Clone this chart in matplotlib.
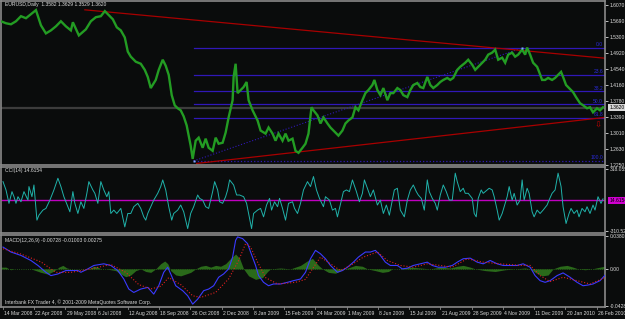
import numpy as np
import matplotlib
matplotlib.use('Agg')
import matplotlib.pyplot as plt

# ---- price (daily close) ----
price_bar = [0, 5, 10, 15, 20, 25, 30, 35, 40, 45, 50, 55, 60, 65, 70, 72, 78, 85, 90, 95,
             100, 104, 108, 112, 116, 120, 124, 127, 130, 135, 140, 144, 147, 150, 155, 158,
             162, 165, 168, 171, 174, 177, 180, 183, 186, 188, 190, 192, 195, 198, 202, 205,
             208, 212, 215, 218, 222, 225, 228, 232, 233, 235, 237, 240, 243, 246, 248, 252,
             257, 260, 265, 268, 272, 275, 278, 282, 285, 288, 292, 295, 298, 302, 305, 308,
             311, 313, 317, 320, 323, 327, 330, 333, 338, 342, 345, 348, 352, 355, 358, 362,
             365, 368, 372, 374, 377, 380, 383, 387, 390, 393, 397, 400, 403, 407, 410, 413,
             417, 420, 423, 427, 430, 433, 437, 440, 443, 447, 450, 453, 457, 460, 465, 468,
             472, 475, 478, 482, 485, 488, 492, 495, 498, 502, 505, 508, 512, 515, 518, 522,
             525, 527, 530, 533, 537, 539, 542, 545, 548, 552, 555, 558, 561, 563, 566, 569,
             573, 576, 580, 583, 587, 590, 593, 597, 600, 603]
price_close = [1.5683, 1.5635, 1.5611, 1.5683, 1.5804, 1.5756, 1.5852, 1.5949, 1.5586, 1.5393,
               1.5465, 1.5562, 1.5683, 1.5562, 1.5465, 1.5659, 1.5345, 1.5490, 1.5683, 1.5780,
               1.5804, 1.5925, 1.5828, 1.5731, 1.5538, 1.5465, 1.5296, 1.4958, 1.4837, 1.4716,
               1.4668, 1.4522, 1.4353, 1.4087, 1.4281, 1.4522, 1.4764, 1.4619, 1.4402, 1.3918,
               1.3676, 1.3604, 1.3555, 1.3410, 1.3193, 1.2951, 1.2709, 1.2395, 1.2830, 1.2902,
               1.2661, 1.2878, 1.2661, 1.2588, 1.2902, 1.2757, 1.2781, 1.3023, 1.3386, 1.3797,
               1.4353, 1.4668, 1.3966, 1.4039, 1.4111, 1.4232, 1.3797, 1.3555, 1.3313, 1.3072,
               1.2999, 1.3144, 1.2999, 1.2830, 1.2999, 1.2830, 1.2999, 1.2830, 1.2878, 1.2588,
               1.2540, 1.2661, 1.2757, 1.2999, 1.3628, 1.3555, 1.3434, 1.3241, 1.3386, 1.3241,
               1.3144, 1.3072, 1.2951, 1.3072, 1.3241, 1.3313, 1.3386, 1.3628, 1.3555, 1.3797,
               1.3966, 1.4039, 1.4160, 1.4281, 1.4039, 1.3918, 1.4087, 1.3797, 1.3966, 1.3966,
               1.4087, 1.4039, 1.3918, 1.3870, 1.4039, 1.4160, 1.4208, 1.4111, 1.4087, 1.4353,
               1.4160, 1.4087, 1.4160, 1.4232, 1.4281, 1.4329, 1.4281, 1.4329, 1.4522, 1.4595,
               1.4692, 1.4764, 1.4643, 1.4522, 1.4595, 1.4692, 1.4764, 1.4885, 1.4934, 1.5006,
               1.4764, 1.4813, 1.4692, 1.4885, 1.4934, 1.4837, 1.4885, 1.5006, 1.4885, 1.5054,
               1.4885, 1.4692, 1.4595, 1.4474, 1.4281, 1.4281, 1.4329, 1.4281, 1.4329, 1.4402,
               1.4474, 1.4353, 1.4160, 1.4087, 1.3990, 1.3870, 1.3725, 1.3676, 1.3604, 1.3628,
               1.3507, 1.3604, 1.3555, 1.3628]

price_ticks = [1.6070, 1.5690, 1.5300, 1.4920, 1.4540, 1.4160, 1.3780, 1.3390, 1.3010, 1.2630, 1.2250]
last_price = 1.3620

# fibonacci + trend lines (anchor points)
fib_low, fib_high = 1.2346, 1.5047
fib_pct = [0.0, 23.6, 38.2, 50.0, 61.8, 100.0]
fib_start = 193
fib_high_bar = 522
upper_trend = ([84, 605], [1.5956, 1.4800])
lower_trend = ([196, 605], [1.2286, 1.3386])

# ---- CCI(14) ----
cci_bar = [2, 5, 8, 11, 13, 15, 17, 20, 23, 27, 28, 31, 33, 36, 38, 42, 45, 49, 53, 57, 60, 63,
           67, 69, 72, 74, 77, 80, 83, 86, 88, 92, 94, 97, 100, 103, 106, 108, 110, 113, 116,
           120, 124, 127, 130, 133, 137, 140, 143, 145, 147, 150, 153, 157, 160, 162, 165, 168,
           171, 173, 177, 180, 183, 187, 190, 193, 197, 199, 202, 205, 208, 212, 214, 217, 219,
           222, 225, 227, 229, 233, 236, 239, 243, 246, 248, 251, 253, 257, 260, 263, 266, 269,
           271, 274, 277, 279, 282, 285, 288, 292, 294, 297, 300, 303, 307, 310, 313, 316, 319,
           323, 325, 329, 332, 335, 337, 341, 343, 346, 349, 352, 356, 359, 362, 364, 367, 370,
           373, 377, 380, 383, 386, 389, 392, 394, 397, 400, 404, 407, 410, 413, 416, 418, 421,
           424, 427, 429, 432, 435, 437, 440, 443, 446, 449, 452, 455, 457, 460, 463, 465, 468,
           472, 474, 476, 478, 481, 483, 487, 489, 492, 494, 497, 499, 502, 504, 507, 509, 512,
           514, 517, 520, 522, 524, 527, 529, 532, 534, 537, 540, 543, 547, 549, 552, 555, 558,
           561, 563, 566, 569, 571, 574, 577, 579, 582, 585, 587, 590, 593, 595, 598, 601, 603]
cci_val = [189, 105, -30, 88, 37, -30, 37, -14, 88, 3, 139, 37, 155, -199, -149, -98, -81, 3,
           105, 223, 139, 37, -64, -115, 88, -30, -132, -14, -81, 71, 189, 105, 71, -30, 189,
           105, 37, 88, -132, -98, -132, -81, -267, -132, -132, -64, -30, -81, -166, -199, -132,
           -64, 3, 71, 139, 206, 105, -64, -199, -132, -98, -47, -115, -284, -132, -64, 54, 20,
           3, -64, -81, 88, 189, 105, -14, -30, 37, 105, 206, 155, 54, 54, 37, -30, -132, -284,
           -132, -98, -81, -166, -47, 20, -98, -14, -64, 20, -81, -199, -30, -14, -81, -132,
           -30, 105, 189, 139, 240, 105, 20, -64, 37, 3, -98, -81, -166, 3, 88, 105, 88, 206,
           88, -14, 71, 206, 122, 37, 105, -47, 3, -132, -47, -149, 3, 105, 122, -98, -166, 3,
           105, 155, 88, 54, 20, -98, 206, 88, 20, -30, -98, 54, 155, 88, 3, 3, 274, 189, 88,
           122, 71, 71, 20, -132, -166, 20, 105, 71, 105, 122, 105, 37, -98, -199, -132, -64,
           37, 139, 3, 71, -47, 3, 206, 3, 122, 71, -115, -166, -98, -132, -98, -47, 3, 71,
           105, 274, 139, -64, -233, -132, -81, -132, -98, -166, -81, -115, -64, -132, -47, -98,
           37, -30, 15]
cci_top, cci_bottom = 318.055, -310.524
cci_last = 14.6154

# ---- MACD(12,26,9) ----
macd_bar = [2, 10, 20, 30, 37, 45, 50, 57, 65, 77, 80, 87, 93, 103, 110, 117, 123, 128, 133,
            140, 147, 153, 158, 163, 167, 170, 175, 182, 187, 192, 197, 203, 208, 213, 218, 223,
            228, 232, 235, 237, 242, 247, 250, 255, 258, 263, 268, 273, 280, 287, 293, 300, 305,
            310, 315, 320, 325, 330, 337, 342, 347, 353, 358, 365, 370, 375, 380, 385, 390, 397,
            402, 407, 413, 420, 427, 432, 438, 445, 452, 457, 463, 470, 477, 483, 490, 497, 503,
            510, 517, 523, 530, 535, 540, 545, 550, 557, 563, 570, 577, 583, 588, 593, 600, 605]
macd_main = [0.0250, 0.0193, 0.0154, 0.0096, 0.0039, -0.0039, -0.0077, -0.0058, -0.0019, -0.0019,
             -0.0039, 0.0, 0.0039, 0.0058, 0.0039, -0.0019, -0.0116, -0.0231, -0.0270, -0.0231,
             -0.0212, -0.0289, -0.0193, -0.0039, 0.0019, -0.0058, -0.0193, -0.0250, -0.0308,
             -0.0404, -0.0347, -0.0250, -0.0231, -0.0193, -0.0096, -0.0058, 0.0, 0.0135, 0.0327,
             0.0366, 0.0347, 0.0289, 0.0193, 0.0039, -0.0077, -0.0154, -0.0193, -0.0173, -0.0173,
             -0.0154, -0.0135, -0.0116, -0.0039, 0.0116, 0.0212, 0.0173, 0.0116, 0.0039, -0.0039,
             -0.0019, 0.0019, 0.0077, 0.0135, 0.0193, 0.0193, 0.0212, 0.0154, 0.0077, 0.0039,
             0.0039, 0.0, 0.0008, 0.0039, 0.0058, 0.0077, 0.0039, 0.0019, 0.0019, 0.0039, 0.0077,
             0.0116, 0.0123, 0.0077, 0.0058, 0.0096, 0.0058, 0.0039, 0.0039, 0.0039, 0.0058,
             0.0019, -0.0077, -0.0135, -0.0154, -0.0135, -0.0077, -0.0046, -0.0096, -0.0154,
             -0.0193, -0.0185, -0.0173, -0.0135, -0.0073]
sig_bar = [2, 20, 40, 55, 70, 90, 110, 125, 138, 150, 160, 168, 180, 192, 200, 215, 228, 238,
           245, 250, 257, 265, 277, 295, 305, 312, 320, 330, 340, 350, 363, 377, 387, 400, 413,
           427, 440, 452, 467, 483, 500, 520, 530, 540, 550, 563, 577, 590, 605]
macd_signal = [0.0231, 0.0170, 0.0080, -0.0040, -0.0040, 0.0, 0.0050, -0.0040, -0.0180, -0.0230,
               -0.0200, -0.0100, -0.0180, -0.0308, -0.0327, -0.0270, -0.0115, 0.0096, 0.0289,
               0.0250, 0.0077, -0.0100, -0.0173, -0.0154, -0.0120, 0.0, 0.0135, 0.0058, -0.0019,
               0.0039, 0.0135, 0.0193, 0.0096, 0.0039, 0.0019, 0.0058, 0.0039, 0.0019, 0.0116,
               0.0077, 0.0058, 0.0040, 0.0040, -0.0077, -0.0146, -0.0096, -0.0135, -0.0173, -0.0100]
hist_bar = [0, 5, 8, 10, 13, 30, 35, 40, 47, 52, 56, 58, 62, 66, 70, 88, 93, 97, 100, 105, 115,
            120, 125, 130, 135, 140, 145, 150, 155, 160, 164, 167, 170, 175, 180, 185, 190, 195,
            200, 205, 210, 215, 220, 225, 230, 235, 239, 243, 248, 255, 262, 267, 270, 280, 290,
            300, 308, 312, 318, 322, 328, 335, 340, 345, 350, 355, 362, 367, 375, 382, 388, 392,
            400, 410, 420, 430, 440, 450, 457, 463, 470, 475, 485, 495, 505, 515, 525, 530, 535,
            542, 548, 553, 560, 567, 573, 578, 585, 592, 600, 605]
macd_hist = [0.002, 0.002, 0.0, -0.001, 0.0, 0.0, -0.002, -0.004, -0.006, -0.003, 0.0, 0.002,
             0.004, 0.001, 0.0, 0.0, 0.003, 0.002, 0.0, 0.0, -0.002, -0.006, -0.009, -0.007,
             -0.002, 0.0, -0.003, -0.004, 0.0, 0.006, 0.009, 0.006, -0.002, -0.007, -0.008,
             -0.006, -0.004, 0.0, 0.003, 0.004, 0.002, 0.004, 0.003, 0.006, 0.012, 0.017, 0.012,
             0.0, -0.008, -0.012, -0.010, -0.003, 0.0, 0.001, 0.0, 0.004, 0.010, 0.012, 0.004,
             0.0, -0.004, -0.005, -0.002, 0.0, 0.002, 0.004, 0.003, 0.0, -0.002, -0.004, -0.003,
             0.0, 0.0, 0.002, 0.001, 0.0, 0.002, 0.001, 0.003, 0.004, 0.002, 0.0, -0.002, -0.003,
             -0.001, 0.0, 0.001, 0.0, -0.004, -0.008, -0.007, 0.0, 0.003, 0.004, 0.002, 0.0,
             -0.001, 0.0, 0.002, 0.003]
macd_top, macd_bottom = 0.03802, -0.04288

date_labels = ['14 Mar 2008', '22 Apr 2008', '29 May 2008', '6 Jul 2008', '12 Aug 2008',
               '18 Sep 2008', '26 Oct 2008', '2 Dec 2008', '8 Jan 2009', '15 Feb 2009',
               '24 Mar 2009', '1 May 2009', '8 Jun 2009', '15 Jul 2009', '21 Aug 2009',
               '28 Sep 2009', '4 Nov 2009', '11 Dec 2009', '20 Jan 2010', '26 Feb 2010']

# colours
BG = '#0a0c0c'
FRAME = '#8a8a8a'
TXT = '#dcdcdc'
GREEN = '#239c23'
FIB = '#3018b8'
TREND = '#a80000'
FS = 3.6

plt.rcParams.update({'font.family': ['Liberation Sans', 'DejaVu Sans'], 'font.size': FS})

W, H = 625, 319
fig = plt.figure(figsize=(W / 100, H / 100), dpi=100, facecolor=BG)


def px_axes(top, bottom, left=1, right=605):
    ax = fig.add_axes([left / W, 1 - bottom / H, (right - left) / W, (bottom - top) / H])
    ax.set_facecolor(BG)
    for s in ax.spines.values():
        s.set_color(FRAME)
        s.set_linewidth(1.2)
    ax.set_xlim(0, 605)
    ax.set_xticks([])
    ax.yaxis.tick_right()
    ax.tick_params(axis='y', colors=TXT, length=2, width=0.6, pad=1.5, labelsize=FS)
    return ax


# ---------------- main price window ----------------
ax = px_axes(1, 165)
ax.set_ylim(1.2249, 1.6167)
ax.set_yticks(price_ticks)
ax.set_yticklabels([f'{v:.4f}' for v in price_ticks])

ax.axhline(last_price, color='#3c3c3c', lw=1.6, zorder=1)

fib_range = fib_high - fib_low
for pct in fib_pct:
    lvl = fib_high - pct / 100 * fib_range
    ls = ':' if pct == 100.0 else '-'
    ax.plot([fib_start, 605], [lvl, lvl], color=FIB, lw=0.9, ls=ls, zorder=2)
    ax.text(603, lvl + 0.0012, f'{pct:.1f}', color='#2a2ad8', fontsize=FS,
            ha='right', va='bottom', zorder=3)
ax.plot([fib_start, fib_high_bar], [fib_low, fib_high], color=FIB, lw=0.8, ls=':', zorder=2)

ax.plot(*upper_trend, color=TREND, lw=0.9, zorder=2)
ax.plot(*lower_trend, color=TREND, lw=0.9, zorder=2)

ax.plot(price_bar, price_close, color=GREEN, lw=1.7, solid_joinstyle='miter', zorder=4)
ax.plot([fib_start, fib_high_bar], [fib_low, fib_high], 's', ms=1.6, color='#7fa8ff',
        mec='none', zorder=5)
ax.text(598, 1.3190, '\u21e9', color='#c00000', fontsize=6, ha='center', va='center',
        family='DejaVu Sans')

ax.text(4, 1.6095, 'EURUSD,Daily  1.3582 1.3629 1.3529 1.3620', color=TXT,
        fontsize=FS, va='center')
ax.text(1.007, last_price, f'{last_price:.4f}', color='#000000', fontsize=FS, va='center',
        transform=ax.get_yaxis_transform(), clip_on=False,
        bbox=dict(boxstyle='square,pad=0.15', fc='#d8d8d8', ec='none'))

# ---------------- CCI window ----------------
ax2 = px_axes(167, 233)
ax2.set_ylim(cci_bottom - 18, cci_top + 18)
ax2.set_yticks([cci_top, cci_bottom])
ax2.set_yticklabels([f'{cci_top:.3f}', f'{cci_bottom:.3f}'])
ax2.axhline(0, color='#c000c0', lw=1.0, zorder=1)
ax2.plot(cci_bar, cci_val, color='#20B2AA', lw=0.7, zorder=2)
ax2.text(4, cci_top - 20, f'CCI(14) {cci_last:.4f}', color=TXT, fontsize=FS, va='center')
ax2.text(1.007, 0, f'{cci_last:.4f}', color='#000000', fontsize=FS, va='center',
         transform=ax2.get_yaxis_transform(), clip_on=False,
         bbox=dict(boxstyle='square,pad=0.15', fc='#d000d0', ec='none'))

# ---------------- MACD window ----------------
ax3 = px_axes(235, 307)
ax3.set_ylim(macd_bottom - 0.0008, macd_top + 0.0008)
ax3.set_yticks([macd_top, 0.0, macd_bottom])
ax3.set_yticklabels([f'{macd_top:.5f}', '0.00', f'{macd_bottom:.5f}'])
ax3.fill_between(hist_bar, macd_hist, 0, color='#2a6a1a', lw=0, zorder=1)
ax3.plot(hist_bar, [0] * len(hist_bar), color='#2a6a1a', lw=0.6, ls=':', zorder=1)
ax3.plot(macd_bar, macd_main, color='#3a3aff', lw=0.8, zorder=3)
ax3.plot(sig_bar, macd_signal, color='#e02020', lw=0.8, ls=':', zorder=3)
ax3.text(4, macd_top - 0.005, 'MACD(12,26,9) -0.00728 -0.01003 0.00275', color=TXT,
         fontsize=FS, va='center')
ax3.text(4, macd_bottom + 0.0045, 'Interbank FX Trader 4, \u00a9 2001-2009 MetaQuotes Software Corp.',
         color=TXT, fontsize=FS, va='center')

# date axis
for i, lab in enumerate(date_labels):
    xb = 2 + 31.3 * i
    ax3.plot([xb, xb], [-0.03, 0], transform=ax3.get_xaxis_transform(), color=FRAME,
             lw=0.6, clip_on=False)
    ax3.text(xb + 1.2, -0.085, lab, transform=ax3.get_xaxis_transform(), color=TXT,
             fontsize=FS, ha='left', va='center', clip_on=False)

fig.savefig('out.png', dpi=100, facecolor=BG)
